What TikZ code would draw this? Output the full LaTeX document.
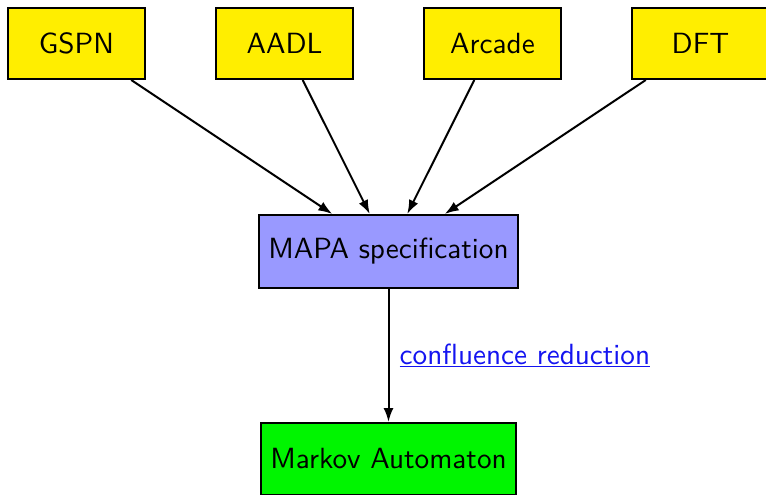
\documentclass[tikz,border=0pt]{standalone}
\usepackage{fontspec}
\newfontfamily\lmsten{lmsans10-regular}[Extension=.otf]
\usetikzlibrary{arrows.meta}
\definecolor{boxyellow}{RGB}{255,238,0}
\definecolor{boxblue}{RGB}{153,153,255}
\definecolor{boxgreen}{RGB}{0,245,0}
\definecolor{linkblue}{RGB}{20,20,240}
\begin{document}
\begin{tikzpicture}[x=1pt,y=-1pt,
  every node/.style={font=\lmsten\fontsize{29.2}{35}\selectfont},
  srcbox/.style={draw=black, line width=2pt, fill=boxyellow, minimum width=137pt, minimum height=71pt, inner sep=0pt},
  midbox/.style={draw=black, line width=2pt, fill=boxblue, minimum width=259pt, minimum height=73pt, inner sep=0pt},
  outbox/.style={draw=black, line width=2pt, fill=boxgreen, minimum width=255pt, minimum height=72pt, inner sep=0pt},
  conn/.style={line width=2pt, -{Latex[length=14pt,width=10pt]}}
]
\useasboundingbox (0,0) rectangle (766,495);
\node[srcbox] (gspn) at (76.5,43.5) {GSPN};
\node[srcbox] (aadl) at (284.5,43.5) {AADL};
\node[srcbox] (arcade) at (492.5,43.5) {Arcade};
\node[srcbox] (dft) at (700.5,43.5) {DFT};
\node[midbox] (mapa) at (388.5,251.5) {MAPA specification};
\node[outbox] (ma) at (388.5,459) {Markov Automaton};
\draw[conn] (gspn) -- (mapa);
\draw[conn] (aadl) -- (mapa);
\draw[conn] (arcade) -- (mapa);
\draw[conn] (dft) -- (mapa);
\draw[conn] (mapa) -- (ma);
\path (mapa) -- node[pos=0.5, anchor=west, xshift=11pt, yshift=0pt, text=linkblue, inner sep=0pt] (lbl) {\underline{confluence reduction}} (ma);
\end{tikzpicture}
\end{document}
